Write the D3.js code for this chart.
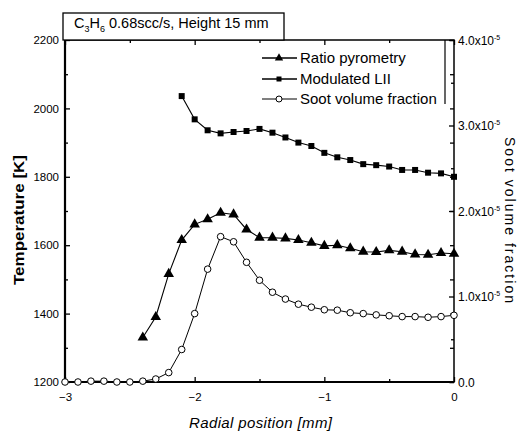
<!DOCTYPE html>
<html><head><meta charset="utf-8">
<script src="https://cdn.jsdelivr.net/npm/d3@7"></script>
<style>
body{margin:0;background:#fff;}
svg{display:block;font-family:"Liberation Sans",Arial,sans-serif;}
</style></head>
<body>
<svg id="c" width="520" height="437"></svg>
<script>
// ---- data ----
const xPyro = [-2.4,-2.3,-2.2,-2.1,-2.0,-1.9,-1.8,-1.7,-1.6,-1.5,-1.4,-1.3,-1.2,-1.1,-1.0,-0.9,-0.8,-0.7,-0.6,-0.5,-0.4,-0.3,-0.2,-0.1,0.0];
const tPyro = [1330,1390,1516,1615,1661,1676,1695,1690,1646,1622,1622,1620,1615,1607,1598,1600,1591,1581,1580,1585,1581,1573,1572,1577,1575];
const xLII = [-2.1,-2.0,-1.9,-1.8,-1.7,-1.6,-1.5,-1.4,-1.3,-1.2,-1.1,-1.0,-0.9,-0.8,-0.7,-0.6,-0.5,-0.4,-0.3,-0.2,-0.1,0.0];
const tLII = [2036,1968,1936,1927,1931,1934,1940,1929,1915,1900,1890,1870,1857,1849,1837,1834,1830,1820,1820,1812,1810,1800];
const xSoot = [-3.0,-2.9,-2.8,-2.7,-2.6,-2.5,-2.4,-2.3,-2.2,-2.1,-2.0,-1.9,-1.8,-1.7,-1.6,-1.5,-1.4,-1.3,-1.2,-1.1,-1.0,-0.9,-0.8,-0.7,-0.6,-0.5,-0.4,-0.3,-0.2,-0.1,0.0];
const fvSoot = [0.0,0.0,0.01,0.01,0.0,0.0,0.01,0.035,0.11,0.38,0.80,1.32,1.70,1.64,1.40,1.19,1.05,0.97,0.91,0.875,0.845,0.84,0.81,0.80,0.785,0.775,0.765,0.765,0.757,0.765,0.78]; // x1e-5
const tempTicks = [1200,1400,1600,1800,2000,2200];
const tempMinor = [1300,1500,1700,1900,2100];
const radialTicks = [-3,-2,-1,0];
const radialMinor = [-2.5,-1.5,-0.5];
const sootTicks = [0,1,2,3,4];
const sootMinor = [0.5,1.5,2.5,3.5];
const sootTickLabels = ["0.0","1.0","2.0","3.0","4.0"];
const legendNames = ["Ratio pyrometry","Modulated LII","Soot volume fraction"];

// ---- layout ----
const L=65,R=454,T=40,B=382;
const svg = d3.select("#c");
svg.append("rect").attr("width",520).attr("height",437).attr("fill","#fff");
const x = d3.scaleLinear().domain([-3,0]).range([L,R]);
const yT = d3.scaleLinear().domain([1200,2200]).range([B,T]);
const yS = d3.scaleLinear().domain([0,4]).range([B,T]);

function styleAxis(g){ g.select(".domain").remove(); g.selectAll("line").attr("stroke","#000").attr("stroke-width",1.3); g.selectAll("text").attr("fill","#000"); }

// left axis
svg.append("g").attr("transform",`translate(${L},0)`)
  .call(d3.axisLeft(yT).tickValues(tempTicks).tickSizeInner(-5).tickSizeOuter(0).tickPadding(6).tickFormat(d3.format("d")))
  .call(styleAxis).call(g=>g.selectAll("text").attr("font-size",11.5).attr("font-family","Liberation Sans"));
svg.append("g").attr("transform",`translate(${L},0)`)
  .call(d3.axisLeft(yT).tickValues(tempMinor).tickSizeInner(-3).tickSizeOuter(0).tickFormat(""))
  .call(styleAxis);
// right axis: mirrored temperature ticks
svg.append("g").attr("transform",`translate(${R},0)`)
  .call(d3.axisRight(yT).tickValues(tempTicks.concat(tempMinor)).tickSizeInner(-4).tickSizeOuter(0).tickFormat(""))
  .call(styleAxis);
// right axis: soot
const ra = svg.append("g").attr("transform",`translate(${R},0)`)
  .call(d3.axisRight(yS).tickValues(sootTicks).tickSizeInner(-5).tickSizeOuter(0).tickFormat(""))
  .call(styleAxis);
ra.selectAll(".tick").each(function(d,i){
  const t = d3.select(this).append("text").attr("x",4).attr("y",4).attr("font-size",12).attr("fill","#000").attr("text-anchor","start");
  t.append("tspan").text(sootTickLabels[i] + (d===0?"":"x10"));
  if(d!==0) t.append("tspan").attr("font-size",7).attr("dy",-5).text("-5");
});
svg.append("g").attr("transform",`translate(${R},0)`)
  .call(d3.axisRight(yS).tickValues(sootMinor).tickSizeInner(-3).tickSizeOuter(0).tickFormat(""))
  .call(styleAxis);
// bottom axis
svg.append("g").attr("transform",`translate(0,${B})`)
  .call(d3.axisBottom(x).tickValues(radialTicks).tickSizeInner(-5).tickSizeOuter(0).tickPadding(11).tickFormat(d3.format("d")))
  .call(styleAxis).call(g=>g.selectAll("text").attr("font-size",11.5).attr("font-family","Liberation Sans"));
svg.append("g").attr("transform",`translate(0,${B})`)
  .call(d3.axisBottom(x).tickValues(radialMinor).tickSizeInner(-3).tickSizeOuter(0).tickFormat(""))
  .call(styleAxis);
// top axis
svg.append("g").attr("transform",`translate(0,${T})`)
  .call(d3.axisTop(x).tickValues(radialTicks).tickSizeInner(-5).tickSizeOuter(0).tickFormat(""))
  .call(styleAxis);
svg.append("g").attr("transform",`translate(0,${T})`)
  .call(d3.axisTop(x).tickValues(radialMinor).tickSizeInner(-3).tickSizeOuter(0).tickFormat(""))
  .call(styleAxis);

// frame
svg.append("rect").attr("x",L).attr("y",T).attr("width",R-L).attr("height",B-T).attr("fill","none").attr("stroke","#000").attr("stroke-width",1.5);
svg.append("line").attr("x1",L).attr("x2",L).attr("y1",T).attr("y2",B+1).attr("stroke","#000").attr("stroke-width",2.2);
svg.append("line").attr("x1",L-1).attr("x2",R).attr("y1",B).attr("y2",B).attr("stroke","#000").attr("stroke-width",2.2);

// title box
svg.append("rect").attr("x",63).attr("y",13).attr("width",221).attr("height",27).attr("fill","#fff").attr("stroke","#000").attr("stroke-width",1.3);
const tt = svg.append("text").attr("x",74).attr("y",27.5).attr("font-size",14.5).attr("fill","#000");
tt.append("tspan").text("C");
tt.append("tspan").attr("font-size",9).attr("dy",4).text("3");
tt.append("tspan").attr("dy",-4).text("H");
tt.append("tspan").attr("font-size",9).attr("dy",4).text("6");
tt.append("tspan").attr("dy",-4).text(" 0.68scc/s, Height 15 mm");

// series
const pyro = xPyro.map((v,i)=>[v,tPyro[i]]);
const lii = xLII.map((v,i)=>[v,tLII[i]]);
const soot = xSoot.map((v,i)=>[v,fvSoot[i]]);
const lineT = d3.line().x(d=>x(d[0])).y(d=>yT(d[1]));
const lineS = d3.line().x(d=>x(d[0])).y(d=>yS(d[1]));
svg.append("path").datum(pyro).attr("d",lineT).attr("fill","none").attr("stroke","#000").attr("stroke-width",1.1);
svg.append("path").datum(lii).attr("d",lineT).attr("fill","none").attr("stroke","#000").attr("stroke-width",1.1);
svg.append("path").datum(soot).attr("d",lineS).attr("fill","none").attr("stroke","#000").attr("stroke-width",1);

const triSym = d3.symbol().type(d3.symbolTriangle).size(48);
const sqSym = d3.symbol().type(d3.symbolSquare).size(36);
svg.append("g").selectAll("path").data(pyro).join("path")
  .attr("d",triSym).attr("transform",d=>`translate(${x(d[0])},${yT(d[1])})`).attr("fill","#000");
svg.append("g").selectAll("path").data(lii).join("path")
  .attr("d",sqSym).attr("transform",d=>`translate(${x(d[0])},${yT(d[1])})`).attr("fill","#000");
svg.append("g").selectAll("circle").data(soot).join("circle")
  .attr("cx",d=>x(d[0])).attr("cy",d=>yS(d[1])).attr("r",3.3).attr("fill","#fff").attr("stroke","#000").attr("stroke-width",1);

// legend
svg.append("line").attr("x1",445).attr("x2",445).attr("y1",T).attr("y2",104).attr("stroke","#000").attr("stroke-width",1.2);
const legY = [58,79,99];
const lg = svg.append("g");
legendNames.forEach((name,i)=>{
  const y0 = legY[i];
  lg.append("line").attr("x1",262).attr("x2",297).attr("y1",y0).attr("y2",y0).attr("stroke","#000").attr("stroke-width",i===2?1:1.3);
  if(i===0) lg.append("path").attr("d",d3.symbol().type(d3.symbolTriangle).size(30)).attr("transform",`translate(279,${y0})`).attr("fill","#000");
  if(i===1) lg.append("path").attr("d",d3.symbol().type(d3.symbolSquare).size(25)).attr("transform",`translate(279,${y0})`).attr("fill","#000");
  if(i===2) lg.append("circle").attr("cx",279).attr("cy",y0).attr("r",3).attr("fill","#fff").attr("stroke","#000");
  lg.append("text").attr("x",300).attr("y",y0+5.2).attr("font-size",15).attr("fill","#000").text(name);
});

// axis titles
svg.append("text").attr("transform","translate(24,220) rotate(-90)").attr("text-anchor","middle")
  .attr("font-size",15).attr("font-weight","bold").attr("fill","#000").attr("textLength",130).attr("lengthAdjust","spacingAndGlyphs").text("Temperature [K]");
svg.append("text").attr("transform","translate(505,220) rotate(90)").attr("text-anchor","middle")
  .attr("font-size",14).attr("fill","#000").attr("textLength",166).attr("lengthAdjust","spacing").text("Soot volume fraction");
svg.append("text").attr("x",260.5).attr("y",428).attr("text-anchor","middle")
  .attr("font-size",15).attr("font-style","italic").attr("fill","#000").attr("textLength",143).text("Radial position [mm]");
</script>
</body></html>
